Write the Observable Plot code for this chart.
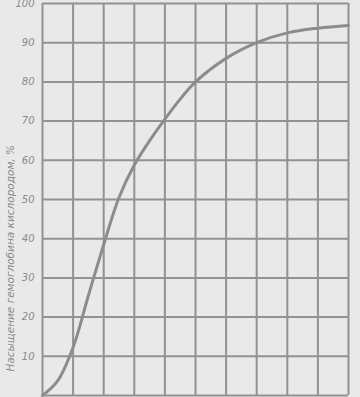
<!DOCTYPE html>
<html>
<head>
<meta charset="utf-8">
<script src="https://cdn.jsdelivr.net/npm/d3@7"></script>
<script src="https://cdn.jsdelivr.net/npm/@observablehq/plot@0.6"></script>
<style>
  html, body { margin: 0; padding: 0; background: #e9e9e9; }
  #chart svg { display: block; }
</style>
</head>
<body>
<div id="chart"></div>
<script>
// Oxygen partial pressure (grid units 0..100) and hemoglobin saturation, %
const pressure   = [0, 5, 10, 15, 20, 25, 30, 35, 40, 45, 50, 60, 70, 80, 90, 100];
const saturation = [0, 3.8, 12.3, 25.5, 38.5, 50.5, 58.8, 65, 70.5, 75.6, 80, 86, 90, 92.5, 93.7, 94.4];
const xGrid = [0, 10, 20, 30, 40, 50, 60, 70, 80, 90, 100];
const yGrid = [0, 10, 20, 30, 40, 50, 60, 70, 80, 90, 100];
const yTickLabels = [10, 20, 30, 40, 50, 60, 70, 80, 90, 100];
const yLabel = "Насыщение гемоглобина кислородом, %";

const data = pressure.map((p, i) => ({p, s: saturation[i]}));
const gridColor = "#929292";

const chart = Plot.plot({
  width: 360,
  height: 397,
  marginLeft: 42,
  marginRight: 12,
  marginTop: 3,
  marginBottom: 2,
  style: {background: "#e9e9e9", fontFamily: "DejaVu Sans", fontStyle: "italic", color: "#8a8a8a"},
  x: {domain: [0, 100], axis: null},
  y: {domain: [0, 100]},
  marks: [
    Plot.ruleX(xGrid, {stroke: gridColor, strokeWidth: 2}),
    Plot.ruleY(yGrid, {stroke: gridColor, strokeWidth: 2}),
    Plot.axisY(yTickLabels, {tickSize: 0, tickPadding: 8, fontSize: 10, fill: "#8a8a8a", label: null}),
    Plot.text([yLabel], {frameAnchor: "left", y: [35], text: d => d, rotate: -90, textAnchor: "middle", dx: -32, fontSize: 10.5, fill: "#8a8a8a"}),
    Plot.line(data, {x: "p", y: "s", curve: "catmull-rom", stroke: "#8c8c8c", strokeWidth: 3})
  ]
});
document.getElementById("chart").appendChild(chart);
</script>
</body>
</html>
